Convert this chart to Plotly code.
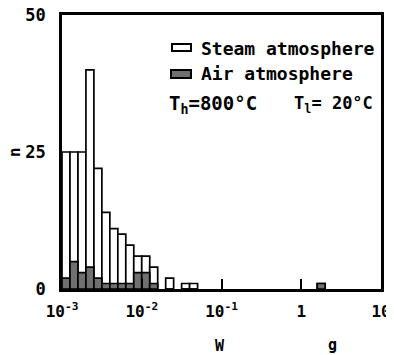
import plotly.graph_objects as go

# log10(W / g) lower edge of each 0.1-decade bin
bin_left_log = [-3.0, -2.9, -2.8, -2.7, -2.6, -2.5, -2.4, -2.3, -2.2, -2.1, -2.0, -1.9,
                -1.7, -1.5, -1.4, 0.2]
steam_counts = [25, 25, 25, 40, 22, 14, 11, 10, 8, 6, 6, 4, 2, 1, 1, 1]
air_counts = [2, 5, 3, 4, 2, 1, 1, 1, 1, 3, 3, 1, 0, 0, 0, 1]
bin_width = 0.1

x_tick_vals = [-3, -2, -1, 0, 1]
x_tick_text = ["10<sup>-3</sup>", "10<sup>-2</sup>", "10<sup>-1</sup>", "1", "10"]
y_tick_vals = [0, 25, 50]

series_names = ["Steam atmosphere", "Air atmosphere"]
temp_texts = ["T<sub>h</sub>=800°C", "T<sub>l</sub>= 20°C"]

# page is rendered with the browser's default 8px body margin
OFF = 8
W, H = 394 - OFF, 355 - OFF
# plot area in page pixels: x 62..381, y 15..289
L, R, T, B = 62 - OFF, 394 - 381, 15 - OFF, 355 - 289
PW, PH = W - L - R, H - T - B

def px(x):  # page pixel x -> paper
    return (x - OFF - L) / PW

def py(y):  # page pixel y -> paper
    return (H - B - (y - OFF)) / PH

centers = [v + bin_width / 2 for v in bin_left_log]
MONO = "DejaVu Sans Mono"
GRAY = "#707070"

fig = go.Figure()
fig.add_trace(go.Bar(x=centers, y=steam_counts, width=bin_width, name=series_names[0],
                     marker=dict(color="white", line=dict(color="black", width=1.7))))
fig.add_trace(go.Bar(x=centers, y=air_counts, width=bin_width, name=series_names[1],
                     marker=dict(color=GRAY, line=dict(color="black", width=1.7))))

fig.update_layout(
    width=W, height=H, margin=dict(l=L, r=R, t=T, b=B, autoexpand=False),
    barmode="overlay", showlegend=False,
    paper_bgcolor="white", plot_bgcolor="white",
    font=dict(family=MONO, size=16, color="black", weight="bold"),
)
fig.update_xaxes(range=[-3, 1], tickvals=x_tick_vals, ticktext=x_tick_text,
                 ticks="inside", ticklen=10, tickwidth=2, tickcolor="black",
                 showline=True, linecolor="black", linewidth=2.5, mirror=True,
                 showgrid=False, zeroline=False, ticklabelstandoff=6, automargin=False,
                 ticklabeloverflow="allow",
                 tickfont=dict(family=MONO, size=16, weight="bold"))
fig.update_yaxes(range=[0, 50], tickvals=y_tick_vals, ticks="",
                 showline=True, linecolor="black", linewidth=2.5, mirror=True,
                 showgrid=False, zeroline=False, ticklabelstandoff=10, automargin=False,
                 ticklabeloverflow="allow",
                 tickfont=dict(family=MONO, size=17, weight="bold"))

# legend swatches
fig.add_shape(type="rect", xref="paper", yref="paper",
              x0=px(172), x1=px(191), y0=py(51), y1=py(44),
              fillcolor="white", line=dict(color="black", width=2))
fig.add_shape(type="rect", xref="paper", yref="paper",
              x0=px(171), x1=px(191), y0=py(78), y1=py(70),
              fillcolor=GRAY, line=dict(color="black", width=2))
for name, yc in zip(series_names, [48, 73]):
    fig.add_annotation(text=name, xref="paper", yref="paper", x=px(199), y=py(yc),
                       xanchor="left", yanchor="middle", showarrow=False,
                       font=dict(family=MONO, size=18, weight="bold"))
for t, xl, fs in zip(temp_texts, [167, 292], [19, 17]):
    fig.add_annotation(text=t, xref="paper", yref="paper", x=px(xl), y=py(104),
                       xanchor="left", yanchor="middle", showarrow=False,
                       font=dict(family=MONO, size=fs, weight="bold"))

# axis titles
fig.add_annotation(text="n", xref="paper", yref="paper", x=px(14), y=py(152),
                   textangle=-90, showarrow=False, xanchor="center", yanchor="middle",
                   font=dict(family=MONO, size=16, weight="bold"))
fig.add_annotation(text="W", xref="paper", yref="paper", x=px(220), y=py(346),
                   showarrow=False, xanchor="center", yanchor="middle",
                   font=dict(family=MONO, size=15, weight="bold"))
fig.add_annotation(text="g", xref="paper", yref="paper", x=px(332), y=py(345),
                   showarrow=False, xanchor="center", yanchor="middle",
                   font=dict(family=MONO, size=15, weight="bold"))

fig.write_html("out.html")
